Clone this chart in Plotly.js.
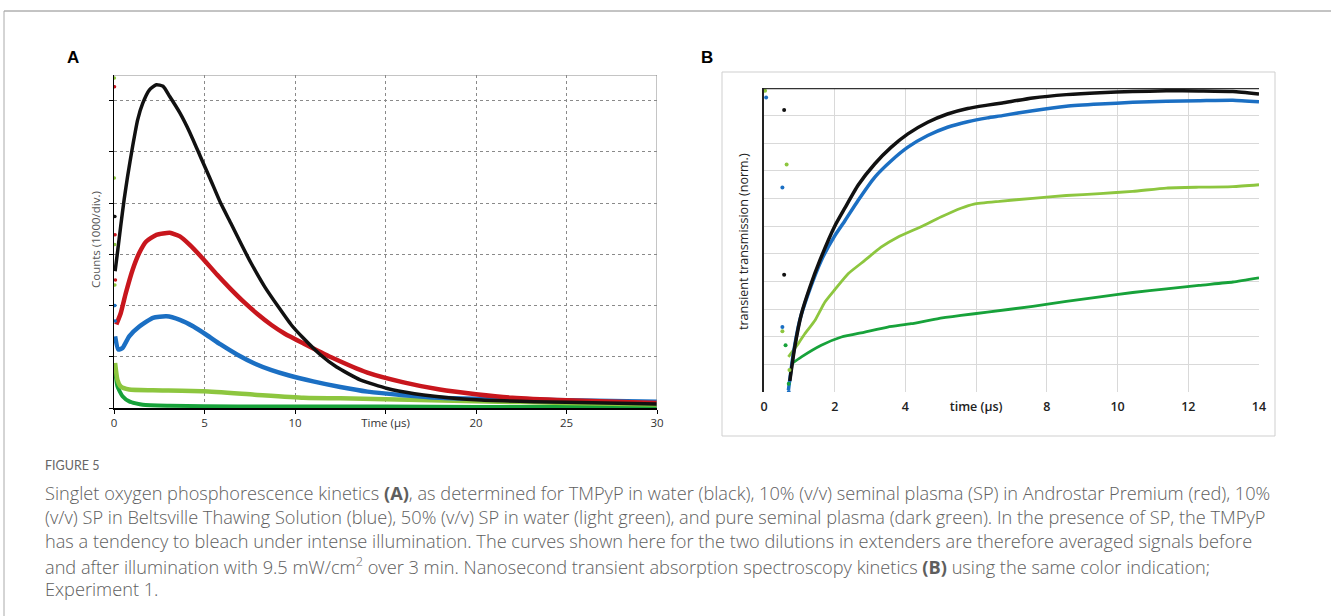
<!DOCTYPE html>
<html><head><meta charset="utf-8">
<script src="https://cdn.plot.ly/plotly-3.0.1.min.js"></script>
<style>html,body{margin:0;padding:0;background:#fff;}#chart{width:1331px;height:616px;}</style>
</head><body><div id="chart"></div>
<script>
// ---------- Panel A: singlet oxygen phosphorescence (counts, 1000/div) ----------
const aTickVals = [0, 5, 10, 15, 20, 25, 30];
const aTickText = ['0', '5', '10', 'Time (µs)', '20', '25', '30'];

const aBlackX = [0.06, 0.19, 0.37, 0.56, 0.75, 1.03, 1.31, 1.59, 1.96, 2.34, 2.71, 3.08, 3.64, 4.2, 4.77, 5.33, 5.89, 6.45, 7.0, 7.57, 8.32, 9.07, 9.8, 10.47, 11.4, 12.3, 13.6, 15.1, 16.6, 17.7, 20, 25, 30];
const aBlackY = [2.67, 3.03, 3.55, 4.07, 4.52, 5.11, 5.63, 5.95, 6.21, 6.31, 6.28, 6.08, 5.76, 5.37, 4.91, 4.46, 4.0, 3.61, 3.22, 2.83, 2.37, 1.98, 1.62, 1.36, 1.04, 0.8, 0.55, 0.38, 0.28, 0.23, 0.16, 0.11, 0.08];

const aRedX = [0.13, 0.37, 0.65, 1.03, 1.4, 1.78, 2.34, 3.08, 3.64, 4.2, 4.95, 5.7, 6.45, 7.2, 7.94, 8.7, 9.44, 10.47, 12.0, 14.0, 16.0, 18.0, 20.0, 22.0, 25.0, 30.0];
const aRedY = [1.63, 1.85, 2.24, 2.7, 3.03, 3.25, 3.38, 3.42, 3.35, 3.18, 2.9, 2.6, 2.32, 2.06, 1.83, 1.62, 1.45, 1.26, 0.99, 0.69, 0.5, 0.36, 0.27, 0.2, 0.15, 0.1];

const aBlueX = [0.06, 0.24, 0.47, 0.84, 1.4, 2.15, 2.9, 3.64, 4.39, 5.14, 5.89, 6.82, 7.76, 8.7, 9.63, 11.0, 12.5, 14.0, 16.0, 18.0, 20.0, 25.0, 30.0];
const aBlueY = [1.4, 1.14, 1.17, 1.4, 1.59, 1.76, 1.79, 1.72, 1.59, 1.42, 1.24, 1.04, 0.87, 0.74, 0.64, 0.52, 0.41, 0.32, 0.25, 0.2, 0.18, 0.15, 0.12];

const aLightX = [0.06, 0.19, 0.37, 0.84, 2.15, 4.95, 7.76, 10.47, 12.5, 15.0, 20.0, 25.0, 30.0];
const aLightY = [0.88, 0.55, 0.42, 0.36, 0.345, 0.325, 0.26, 0.2, 0.19, 0.17, 0.13, 0.1, 0.07];

const aDarkX = [0.06, 0.19, 0.47, 0.84, 1.59, 3.08, 6.8, 10.0, 15.0, 20.0, 25.0, 30.0];
const aDarkY = [0.75, 0.42, 0.23, 0.13, 0.065, 0.045, 0.03, 0.03, 0.03, 0.02, 0.02, 0.02];

// isolated early points (first samples)
const aEarlyLightX = [0.02, 0.02, 0.04, 0.05];
const aEarlyLightY = [6.44, 4.49, 3.19, 2.4];
const aEarlyRedX = [0.03, 0.06, 0.08];
const aEarlyRedY = [6.27, 3.38, 2.5];
const aEarlyBlackX = [0.05];
const aEarlyBlackY = [3.74];
const aEarlyBlueX = [0.05, 0.07];
const aEarlyBlueY = [2.0, 1.7];

// ---------- Panel B: transient transmission (normalised) ----------
const bTickVals = [0, 2, 4, 6, 8, 10, 12, 14];
const bTickText = ['0', '2', '4', 'time (µs)', '8', '10', '12', '14'];

const bBlackX = [0.73, 0.87, 1.06, 1.3, 1.58, 2.0, 2.28, 2.66, 3.13, 3.6, 4.07, 4.63, 5.19, 5.76, 6.32, 6.74, 7.6, 8.55, 9.5, 10.43, 11.38, 12.3, 13.26, 14.0];
const bBlackY = [0.04, 0.163, 0.283, 0.38, 0.476, 0.6, 0.664, 0.748, 0.825, 0.886, 0.934, 0.976, 1.006, 1.026, 1.038, 1.046, 1.064, 1.076, 1.083, 1.087, 1.09, 1.089, 1.087, 1.078];

const bBlueX = [0.69, 0.83, 1.01, 1.25, 1.62, 2.0, 2.28, 2.66, 3.13, 3.6, 4.07, 4.63, 5.19, 5.76, 6.32, 6.74, 7.6, 8.55, 9.5, 10.43, 11.38, 12.3, 13.26, 14.0];
const bBlueY = [0.006, 0.139, 0.259, 0.355, 0.476, 0.565, 0.618, 0.693, 0.777, 0.837, 0.886, 0.928, 0.958, 0.978, 0.992, 1.0, 1.018, 1.034, 1.042, 1.048, 1.052, 1.054, 1.056, 1.05];

const bLightX = [0.69, 0.97, 1.15, 1.44, 1.72, 2.0, 2.38, 2.85, 3.31, 3.78, 4.44, 5.0, 5.57, 5.94, 6.66, 7.6, 8.55, 9.5, 10.43, 11.38, 12.3, 13.26, 14.0];
const bLightY = [0.127, 0.175, 0.21, 0.259, 0.325, 0.37, 0.428, 0.476, 0.524, 0.56, 0.598, 0.633, 0.665, 0.68, 0.69, 0.701, 0.711, 0.718, 0.726, 0.738, 0.741, 0.743, 0.75];

const bDarkX = [0.78, 1.06, 1.62, 2.19, 2.85, 3.5, 4.16, 4.9, 5.57, 6.32, 7.6, 8.55, 9.5, 10.43, 11.38, 12.3, 13.26, 14.0];
const bDarkY = [0.102, 0.127, 0.169, 0.199, 0.217, 0.235, 0.247, 0.265, 0.277, 0.289, 0.31, 0.328, 0.344, 0.36, 0.373, 0.386, 0.398, 0.413];

const bEarlyBlackX = [0.57, 0.57];
const bEarlyBlackY = [1.02, 0.424];
const bEarlyBlueX = [0.06, 0.52, 0.52, 0.7];
const bEarlyBlueY = [1.066, 0.74, 0.235, 0.0];
const bEarlyLightX = [0.03, 0.64, 0.52, 0.72];
const bEarlyLightY = [1.09, 0.823, 0.22, 0.08];
const bEarlyDarkX = [0.61, 0.7];
const bEarlyDarkY = [0.169, 0.03];

// ---------- caption ----------
const captionHead = 'FIGURE 5';
const captionLines = [
  'Singlet oxygen phosphorescence kinetics <b>(A)</b>, as determined for TMPyP in water (black), 10% (v/v) seminal plasma (SP) in Androstar Premium (red), 10%',
  '(v/v) SP in Beltsville Thawing Solution (blue), 50% (v/v) SP in water (light green), and pure seminal plasma (dark green). In the presence of SP, the TMPyP',
  'has a tendency to bleach under intense illumination. The curves shown here for the two dilutions in extenders are therefore averaged signals before',
  'and after illumination with 9.5 mW/cm<sup>2</sup> over 3 min. Nanosecond transient absorption spectroscopy kinetics <b>(B)</b> using the same color indication;',
  'Experiment 1.'
];

const C = {black:'#111111', red:'#c8161d', blue:'#1b6fc3', light:'#8dc63f', dark:'#17a23a'};
const W = 1331, H = 616;
const px = v => v / W, py = v => 1 - v / H;

function curve(x, y, color, width, xa, ya) {
  return {x, y, type:'scatter', mode:'lines', line:{color, width, shape:'spline', smoothing:0.5}, xaxis:xa, yaxis:ya, hoverinfo:'skip', showlegend:false};
}
function dots(x, y, color, size, xa, ya) {
  return {x, y, type:'scatter', mode:'markers', marker:{color, size}, xaxis:xa, yaxis:ya, hoverinfo:'skip', showlegend:false};
}

const data = [
  curve(aDarkX, aDarkY, C.dark, 4, 'x', 'y'),
  curve(aLightX, aLightY, C.light, 4.5, 'x', 'y'),
  curve(aBlueX, aBlueY, C.blue, 4.5, 'x', 'y'),
  curve(aRedX, aRedY, C.red, 4.5, 'x', 'y'),
  curve(aBlackX, aBlackY, C.black, 3.5, 'x', 'y'),
  dots(aEarlyLightX, aEarlyLightY, C.light, 3.5, 'x', 'y'),
  dots(aEarlyRedX, aEarlyRedY, C.red, 3.5, 'x', 'y'),
  dots(aEarlyBlackX, aEarlyBlackY, C.black, 3.5, 'x', 'y'),
  dots(aEarlyBlueX, aEarlyBlueY, C.blue, 3.5, 'x', 'y'),

  curve(bDarkX, bDarkY, C.dark, 2.8, 'x2', 'y2'),
  curve(bLightX, bLightY, C.light, 2.8, 'x2', 'y2'),
  curve(bBlueX, bBlueY, C.blue, 3.5, 'x2', 'y2'),
  curve(bBlackX, bBlackY, C.black, 3.5, 'x2', 'y2'),
  dots(bEarlyBlackX, bEarlyBlackY, C.black, 4, 'x2', 'y2'),
  dots(bEarlyBlueX, bEarlyBlueY, C.blue, 4, 'x2', 'y2'),
  dots(bEarlyLightX, bEarlyLightY, C.light, 4, 'x2', 'y2'),
  dots(bEarlyDarkX, bEarlyDarkY, C.dark, 4, 'x2', 'y2')
];

const tickFontA = {family:'Open Sans, sans-serif', size:11.5, color:'#333'};
const tickFontB = {family:'Open Sans, sans-serif', size:12.5, color:'#222', weight:600};

const layout = {
  width: W, height: H,
  margin: {l:0, r:0, t:0, b:0},
  paper_bgcolor: '#fff', plot_bgcolor: 'rgba(0,0,0,0)',
  font: {family:'Open Sans, sans-serif'},
  xaxis: {
    domain: [px(114), px(657)], range: [0, 30], anchor: 'y',
    tickmode: 'array', tickvals: aTickVals, ticktext: aTickText,
    tickfont: tickFontA, ticks: 'outside', ticklen: 4, tickcolor: '#000',
    showgrid: true, gridcolor: '#8a8a8a', griddash: 'dot', gridwidth: 1,
    showline: true, linecolor: '#000', linewidth: 1.5, zeroline: false, fixedrange: true
  },
  yaxis: {
    domain: [py(408), py(75)], range: [0, 6.5], anchor: 'x',
    tickmode: 'array', tickvals: [0, 1, 2, 3, 4, 5, 6], showticklabels: false,
    ticks: 'outside', ticklen: 4, tickcolor: '#000',
    showgrid: true, gridcolor: '#8a8a8a', griddash: 'dot', gridwidth: 1,
    showline: true, linecolor: '#000', linewidth: 1.5, zeroline: false, fixedrange: true
  },
  xaxis2: {
    domain: [px(764), px(1259)], range: [0, 14], anchor: 'y2',
    tickmode: 'array', tickvals: bTickVals, ticktext: bTickText,
    tickfont: tickFontB, ticks: '', ticklabelstandoff: 5,
    showgrid: true, gridcolor: '#d9d9d9', gridwidth: 1,
    showline: false, zeroline: false, fixedrange: true
  },
  yaxis2: {
    domain: [py(392), py(88)], range: [0, 1.1], anchor: 'x2',
    tickmode: 'array', tickvals: [0, 0.1, 0.2, 0.3, 0.4, 0.5, 0.6, 0.7, 0.8, 0.9, 1.0], showticklabels: false,
    ticks: '', showgrid: true, gridcolor: '#d9d9d9', gridwidth: 1,
    showline: true, linecolor: '#222', linewidth: 2, zeroline: false, fixedrange: true
  },
  shapes: [
    // outer figure frame
    {type:'line', xref:'paper', yref:'paper', x0:px(4), x1:1, y0:py(11), y1:py(11), line:{color:'#888', width:1}},
    {type:'line', xref:'paper', yref:'paper', x0:px(4), x1:px(4), y0:py(11), y1:0, line:{color:'#aaa', width:1}},
    // panel A top / right border
    {type:'line', xref:'x', yref:'y', x0:0, x1:30, y0:6.5, y1:6.5, line:{color:'#8a8a8a', width:1}},
    {type:'line', xref:'x', yref:'y', x0:30, x1:30, y0:0, y1:6.5, line:{color:'#8a8a8a', width:1}},
    // panel B box and top line
    {type:'rect', xref:'paper', yref:'paper', x0:px(722), x1:px(1275), y0:py(436), y1:py(72), line:{color:'#cfcfcf', width:1}, layer:'below'},
    {type:'line', xref:'x2', yref:'y2', x0:0, x1:14, y0:1.1, y1:1.1, line:{color:'#333', width:2.5}}
  ],
  annotations: [
    {text:'<b>A</b>', xref:'paper', yref:'paper', x:px(73), y:py(58), xanchor:'center', yanchor:'middle', showarrow:false, font:{family:'Liberation Sans, Arial, sans-serif', size:17, color:'#000'}},
    {text:'<b>B</b>', xref:'paper', yref:'paper', x:px(707), y:py(58), xanchor:'center', yanchor:'middle', showarrow:false, font:{family:'Liberation Sans, Arial, sans-serif', size:17, color:'#000'}},
    {text:'Counts (1000/div.)', xref:'paper', yref:'paper', x:px(95), y:py(240), xanchor:'center', yanchor:'middle', textangle:-90, showarrow:false, font:{family:'Open Sans, sans-serif', size:11.5, color:'#555'}},
    {text:'transient transmission (norm.)', xref:'paper', yref:'paper', x:px(744), y:py(242), xanchor:'center', yanchor:'middle', textangle:-90, showarrow:false, font:{family:'Open Sans, sans-serif', size:12.5, color:'#222'}},
    {text:captionHead, xref:'paper', yref:'paper', x:px(43), y:py(465), xanchor:'left', yanchor:'middle', showarrow:false, font:{family:'Lato, sans-serif', size:12.5, color:'#666'}}
  ].concat(captionLines.map((t, i) => ({
    text:t, xref:'paper', yref:'paper', x:px(43), y:py(493 + 24 * i), xanchor:'left', yanchor:'middle', showarrow:false,
    font:{family:'Open Sans, sans-serif', size:18.2, color:'#5e5e5e', weight:300}
  })))
};

Plotly.newPlot('chart', data, layout, {staticPlot:true, displayModeBar:false});
</script>
</body></html>
